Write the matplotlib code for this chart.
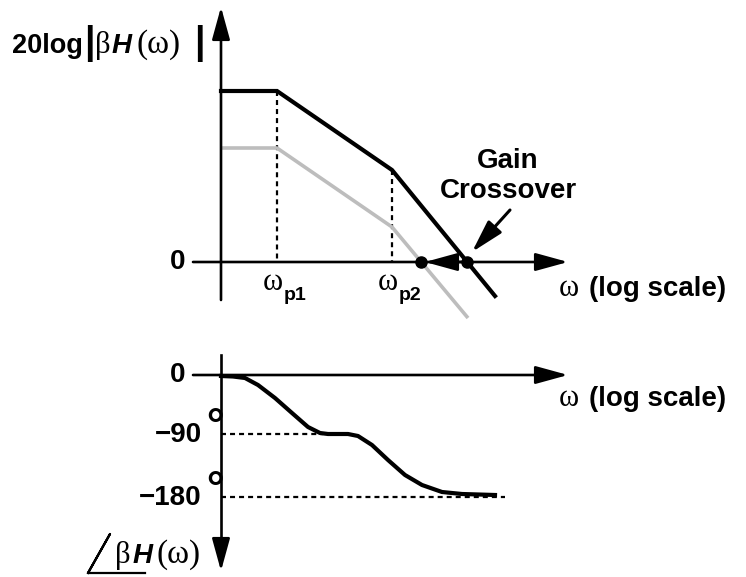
import matplotlib.pyplot as plt

plt.rcParams['lines.scale_dashes'] = False
SANS = 'Liberation Sans'
SERIF = 'Liberation Serif'

# drawing units: x grows with log(omega), y grows downward (0 dB at y = 262)
mag_x = [221, 277, 392, 495]
mag_loop_y = [91, 91, 170, 296]
mag_gray_x = [221, 277, 392, 468]
mag_gray_y = [148, 148, 227, 318]
pole_x = [277, 392]
pole_labels = ['p1', 'p2']
crossover_x = [421, 467]

phase_x = [221, 233, 245, 258, 275, 292, 308, 320, 328, 348, 358, 372, 388,
           405, 422, 442, 462, 495]
phase_y = [376, 376.5, 378, 385, 398, 413, 427, 433, 434, 434, 436, 445, 460,
           475, 485, 492, 494, 495]

zero_mag = 262
zero_phase = 375
ref_phase = [(434, '\u221290'), (497, '\u2212180')]

fig = plt.figure(figsize=(7.46, 5.77), dpi=100)
ax = fig.add_axes([0, 0, 1, 1])
ax.set_xlim(0, 746)
ax.set_ylim(577, 0)
ax.axis('off')

axis_lw = 1.9
head = '-|>,head_length=2.0,head_width=0.55'
dash = (0, (3.6, 2.9))


def arrow(tail, tip, lw=axis_lw):
    ax.annotate('', xy=tip, xytext=tail,
                arrowprops=dict(arrowstyle=head, lw=lw, color='black',
                                shrinkA=0, shrinkB=0, mutation_scale=10))


def bold(x, y, s, size=20, ha='left'):
    ax.text(x, y, s, fontsize=size, fontweight='bold', family=SANS,
            ha=ha, va='center')


def greek(x, y, s, size=22, ha='left'):
    ax.text(x, y, s, fontsize=size, family=SERIF, ha=ha, va='center')


# --- magnitude plot ---
arrow((221, 300), (221, 7))
arrow((193, zero_mag), (568, zero_mag))
for px in pole_x:
    idx = mag_x.index(px)
    ax.plot([px, px], [mag_loop_y[idx], zero_mag], color='black', lw=1.6,
            linestyle=dash)
ax.plot(mag_gray_x, mag_gray_y, color='#bdbdbd', lw=2.6, solid_capstyle='butt')
ax.plot(mag_x, mag_loop_y, color='black', lw=3.0, solid_joinstyle='miter')
ax.plot(crossover_x, [zero_mag] * 2, 'o', color='black', ms=8)
arrow((crossover_x[1], zero_mag), (crossover_x[0] + 4, zero_mag))
arrow((510, 210), (472, 252), lw=2.2)

bold(178, zero_mag, '0', ha='center')
for px, lab in zip(pole_x, pole_labels):
    greek(px - 4, 283, '\u03c9', ha='center')
    bold(px + 7, 296, lab, size=14)
bold(508, 161, 'Gain', ha='center')
bold(508, 191, 'Crossover', ha='center')
for yy in (289, 399):
    greek(559, yy, '\u03c9')
    bold(589, yy, '(log scale)')

# y label of the magnitude plot
bold(12, 46, '20log', size=19.5)
ax.text(89, 43, '|', fontsize=27, fontweight='bold', family=SANS,
        ha='center', va='center')
greek(95, 46, '\u03b2')
ax.text(112, 46, 'H', fontsize=20, fontweight='bold', style='italic',
        family=SANS, ha='left', va='center')
greek(136, 45, '(\u03c9)', size=24)
ax.text(199, 43, '|', fontsize=27, fontweight='bold', family=SANS,
        ha='center', va='center')

# --- phase plot ---
ax.plot([221, 221], [355, 545], color='black', lw=axis_lw)
arrow((221, 540), (221, 571))
arrow((193, zero_phase), (568, zero_phase))
ax.plot([221, 323], [ref_phase[0][0]] * 2, color='black', lw=1.6,
        linestyle=dash)
ax.plot([221, 505], [ref_phase[1][0]] * 2, color='black', lw=1.6,
        linestyle=dash)
ax.plot(phase_x, phase_y, color='black', lw=3.0)

bold(178, zero_phase, '0', ha='center')
for yy, lab in ref_phase:
    bold(202, yy + 1, lab, ha='right')
    ax.text(204, yy - 6, '\u00b0', fontsize=31, fontweight='bold',
            family='DejaVu Sans', ha='left', va='center')

# angle sign and label
ax.plot([88, 110, 88, 145], [573, 534, 573, 573], color='black', lw=1.6)
greek(115, 556, '\u03b2')
ax.text(133, 556, 'H', fontsize=20, fontweight='bold', style='italic',
        family=SANS, ha='left', va='center')
greek(157, 555, '(\u03c9)', size=24)

fig.savefig('out.png', dpi=100)
